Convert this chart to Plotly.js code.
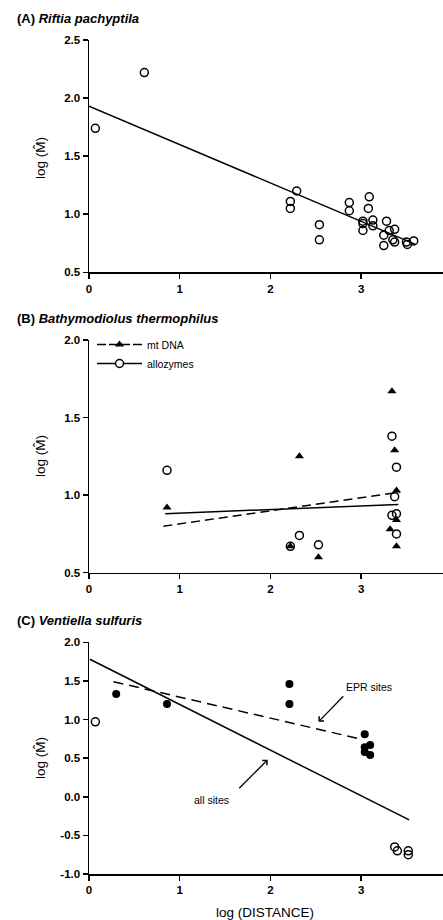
<!DOCTYPE html>
<html><head><meta charset="utf-8">
<script src="https://cdn.plot.ly/plotly-3.0.1.min.js"></script>
<style>html,body{margin:0;padding:0;background:#fff}#chart{width:443px;height:920px}</style>
</head><body><div id="chart"></div>
<script>
// Panel A: Riftia pachyptila
const riftiaX = [0.07, 0.61, 2.29, 2.22, 2.22, 2.54, 2.54, 2.87, 2.87, 3.09, 3.08, 3.02, 3.02, 3.02, 3.13, 3.13, 3.28, 3.25, 3.25, 3.31, 3.37, 3.35, 3.37, 3.50, 3.51, 3.58];
const riftiaY = [1.74, 2.22, 1.20, 1.11, 1.05, 0.91, 0.78, 1.10, 1.03, 1.15, 1.05, 0.94, 0.92, 0.86, 0.95, 0.90, 0.94, 0.82, 0.73, 0.86, 0.87, 0.78, 0.76, 0.76, 0.74, 0.77];
const riftiaFitX = [0, 3.6];
const riftiaFitY = [1.93, 0.74];

// Panel B: Bathymodiolus thermophilus
const mtX = [0.86, 2.32, 2.53, 2.22, 3.34, 3.37, 3.39, 3.39, 3.32, 3.39];
const mtY = [0.92, 1.25, 0.60, 0.67, 1.67, 1.29, 1.03, 0.84, 0.78, 0.67];
const alloX = [0.86, 2.32, 2.22, 2.53, 3.34, 3.39, 3.37, 3.34, 3.39, 3.39];
const alloY = [1.16, 0.74, 0.67, 0.68, 1.38, 1.18, 0.99, 0.87, 0.88, 0.75];
const mtFitX = [0.82, 3.43];
const mtFitY = [0.80, 1.02];
const alloFitX = [0.84, 3.41];
const alloFitY = [0.88, 0.94];

// Panel C: Ventiella sulfuris
const eprX = [0.30, 0.86, 2.21, 2.21, 3.04, 3.10, 3.04, 3.04, 3.10];
const eprY = [1.33, 1.20, 1.46, 1.20, 0.81, 0.67, 0.64, 0.58, 0.54];
const otherX = [0.07, 3.37, 3.40, 3.52, 3.52];
const otherY = [0.97, -0.65, -0.70, -0.70, -0.75];
const allFitX = [0.01, 3.53];
const allFitY = [1.78, -0.30];
const eprFitX = [0.27, 3.02];
const eprFitY = [1.49, 0.74];

const xTicks = [0, 1, 2, 3];
const yTicksA = [0.5, 1.0, 1.5, 2.0, 2.5];
const yTicksB = [0.5, 1.0, 1.5, 2.0];
const yTicksC = [-1.0, -0.5, 0.0, 0.5, 1.0, 1.5, 2.0];

const K = '#000';
const openCircle = {symbol: 'circle-open', size: 8, color: K, line: {width: 1.5, color: K}};
const tri = {symbol: 'triangle-up', size: 8, color: K};
const fillCircle = {symbol: 'circle', size: 8, color: K};

const traces = [
  {x: riftiaX, y: riftiaY, mode: 'markers', marker: openCircle, xaxis: 'x', yaxis: 'y', showlegend: false, cliponaxis: false},
  {x: riftiaFitX, y: riftiaFitY, mode: 'lines', line: {color: K, width: 1.5}, xaxis: 'x', yaxis: 'y', showlegend: false},

  {x: mtFitX, y: mtFitY, mode: 'lines', line: {color: K, width: 1.5, dash: '9px,5px'}, xaxis: 'x2', yaxis: 'y2', showlegend: false},
  {x: alloFitX, y: alloFitY, mode: 'lines', line: {color: K, width: 1.5}, xaxis: 'x2', yaxis: 'y2', showlegend: false},
  {x: alloX, y: alloY, mode: 'markers', marker: openCircle, xaxis: 'x2', yaxis: 'y2', showlegend: false, cliponaxis: false},
  {x: mtX, y: mtY, mode: 'markers', marker: tri, xaxis: 'x2', yaxis: 'y2', showlegend: false, cliponaxis: false},
  {x: [null], y: [null], mode: 'lines+markers', name: 'mt DNA', line: {color: K, width: 1.5, dash: '9px,3px'}, marker: tri, xaxis: 'x2', yaxis: 'y2', showlegend: true},
  {x: [null], y: [null], mode: 'lines+markers', name: 'allozymes', line: {color: K, width: 1.5}, marker: {symbol: 'circle', size: 8, color: '#fff', line: {width: 1.5, color: K}}, xaxis: 'x2', yaxis: 'y2', showlegend: true},

  {x: allFitX, y: allFitY, mode: 'lines', line: {color: K, width: 1.5}, xaxis: 'x3', yaxis: 'y3', showlegend: false},
  {x: eprFitX, y: eprFitY, mode: 'lines', line: {color: K, width: 1.5, dash: '10px,6px'}, xaxis: 'x3', yaxis: 'y3', showlegend: false},
  {x: eprX, y: eprY, mode: 'markers', marker: fillCircle, xaxis: 'x3', yaxis: 'y3', showlegend: false, cliponaxis: false},
  {x: otherX, y: otherY, mode: 'markers', marker: openCircle, xaxis: 'x3', yaxis: 'y3', showlegend: false, cliponaxis: false}
];

const W = 443, H = 920, L = 89;
const px = v => (v - L) / (W - L);
const py = v => 1 - v / H;

const FAM = 'Liberation Sans, Arial, sans-serif';
const tickFont = {family: FAM, size: 11.5, color: K, weight: 'bold'};
function xa(anchor) {
  return {anchor: anchor, domain: [0, 1], range: [0, (W - L) / 90.7], tickvals: xTicks, ticktext: xTicks.map(String),
    showline: true, linecolor: K, linewidth: 1.5, ticks: 'outside', ticklen: 5, tickwidth: 1.5, tickcolor: K,
    showgrid: false, zeroline: false, tickfont: tickFont, fixedrange: true};
}
function ya(anchor, dom, rng, tv) {
  return {anchor: anchor, domain: dom, range: rng, tickvals: tv, ticktext: tv.map(v => v.toFixed(1)),
    showline: true, linecolor: K, linewidth: 1.5, ticks: 'outside', ticklen: 5, tickwidth: 1.5, tickcolor: K,
    showgrid: false, zeroline: false, tickfont: tickFont, fixedrange: true};
}

const titleFont = {family: FAM, size: 13, color: K};
const labFont = {family: FAM, size: 13.5, color: K};
const smallFont = {family: FAM, size: 10.5, color: K};

const annotations = [
  {xref: 'paper', yref: 'paper', x: px(15), y: py(18), xanchor: 'left', yanchor: 'middle', showarrow: false, text: '<b>(A) <i>Riftia pachyptila</i></b>', font: titleFont},
  {xref: 'paper', yref: 'paper', x: px(15), y: py(318), xanchor: 'left', yanchor: 'middle', showarrow: false, text: '<b>(B) <i>Bathymodiolus thermophilus</i></b>', font: titleFont},
  {xref: 'paper', yref: 'paper', x: px(15), y: py(620), xanchor: 'left', yanchor: 'middle', showarrow: false, text: '<b>(C) <i>Ventiella sulfuris</i></b>', font: titleFont},
  {xref: 'paper', yref: 'paper', x: px(40), y: py(158), textangle: -90, xanchor: 'center', yanchor: 'middle', showarrow: false, text: 'log (M\u0302)', font: labFont},
  {xref: 'paper', yref: 'paper', x: px(40), y: py(456), textangle: -90, xanchor: 'center', yanchor: 'middle', showarrow: false, text: 'log (M\u0302)', font: labFont},
  {xref: 'paper', yref: 'paper', x: px(40), y: py(758), textangle: -90, xanchor: 'center', yanchor: 'middle', showarrow: false, text: 'log (M\u0302)', font: labFont},
  {xref: 'paper', yref: 'paper', x: px(265), y: py(912), xanchor: 'center', yanchor: 'middle', showarrow: false, text: 'log (DISTANCE)', font: labFont},
  {xref: 'x3', yref: 'y3', x: 3.09, y: 1.42, xanchor: 'center', yanchor: 'middle', showarrow: false, text: 'EPR sites', font: smallFont},
  {xref: 'x3', yref: 'y3', x: 2.53, y: 0.97, axref: 'x3', ayref: 'y3', ax: 2.82, ay: 1.32, showarrow: true, text: '', arrowhead: 4, arrowsize: 1, arrowwidth: 1.3, arrowcolor: K},
  {xref: 'x3', yref: 'y3', x: 1.35, y: -0.04, xanchor: 'center', yanchor: 'middle', showarrow: false, text: 'all sites', font: smallFont},
  {xref: 'x3', yref: 'y3', x: 1.97, y: 0.48, axref: 'x3', ayref: 'y3', ax: 1.64, ay: 0.09, showarrow: true, text: '', arrowhead: 4, arrowsize: 1, arrowwidth: 1.3, arrowcolor: K}
];

const layout = {
  width: W, height: H,
  margin: {l: L, r: 0, t: 0, b: 0},
  paper_bgcolor: '#fff', plot_bgcolor: '#fff',
  font: {family: FAM, color: K},
  xaxis: xa('y'), yaxis: ya('x', [py(272.3), py(40)], [0.5, 2.5], yTicksA),
  xaxis2: xa('y2'), yaxis2: ya('x2', [py(572.7), py(340)], [0.5, 2.0], yTicksB),
  xaxis3: xa('y3'), yaxis3: ya('x3', [py(874), py(642.3)], [-1.0, 2.0], yTicksC),
  showlegend: true,
  legend: {x: px(92), y: py(330), xanchor: 'left', yanchor: 'top', bgcolor: 'rgba(0,0,0,0)', borderwidth: 0,
    itemwidth: 45, font: {family: FAM, size: 10.5, color: K}, tracegroupgap: 0, itemclick: false},
  annotations: annotations
};

Plotly.newPlot('chart', traces, layout, {displayModeBar: false, staticPlot: true});
</script>
</body></html>
